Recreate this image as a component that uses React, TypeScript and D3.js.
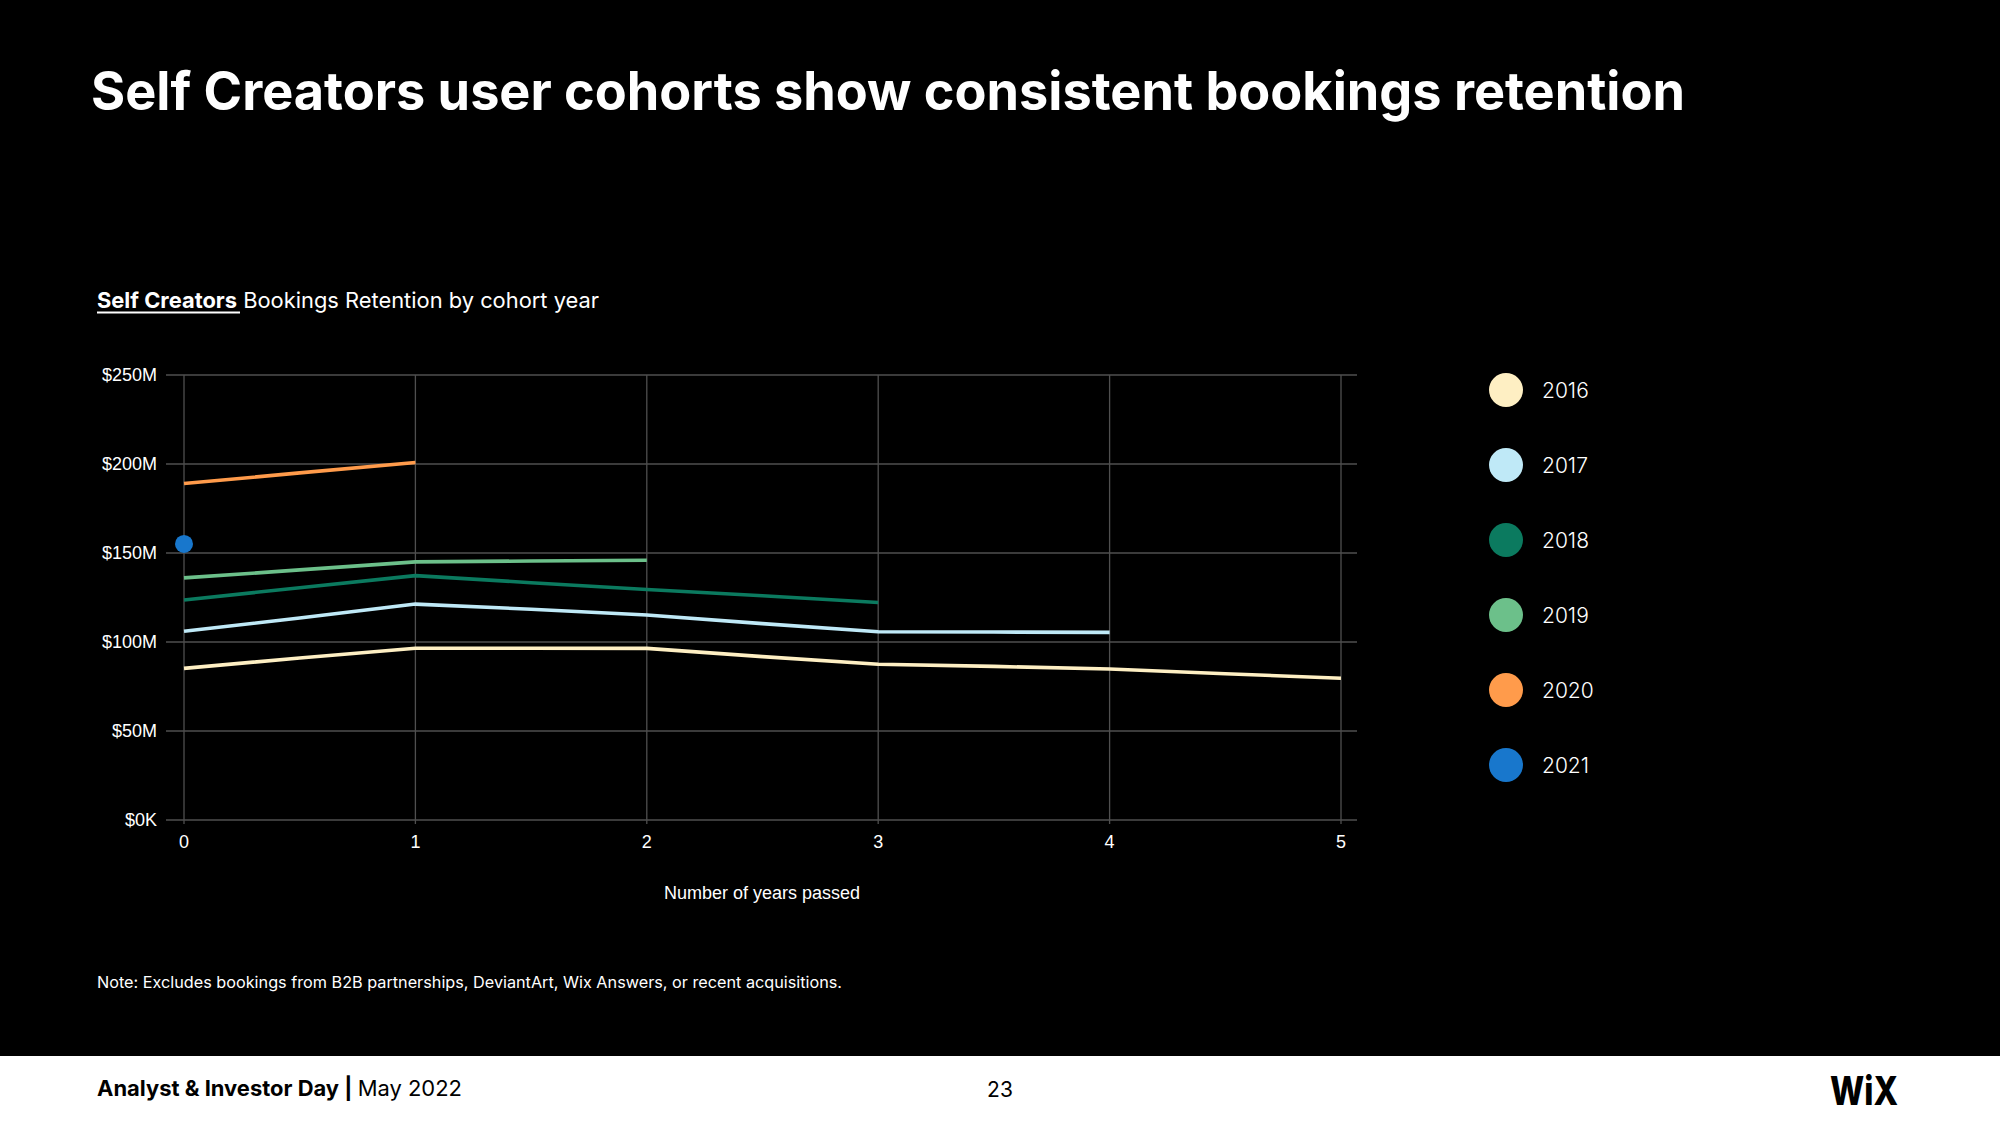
import React, { useEffect } from "react";
import * as d3 from "d3";

const yearsPassed = [0, 0.5, 1, 1.5, 2, 2.5, 3, 3.5, 4, 4.5, 5];
const cohortYears = ["2016", "2017", "2018", "2019", "2020", "2021"];
const values2016 = [85.2, 91.0, 96.5, 96.5, 96.4, 91.8, 87.5, 86.3, 84.8, 82.2, 79.6];
const values2017 = [106.0, 113.5, 121.3, 118.4, 115.2, 110.3, 105.8, 105.6, 105.4];
const values2018 = [123.6, 130.5, 137.3, 133.3, 129.5, 126.0, 122.2];
const values2019 = [136.0, 140.5, 145.0, 145.5, 145.9];
const values2020 = [189.0, 195.0, 200.8];
const values2021 = [155.1];
const cohortColors = ["#FEEFC3", "#BFE9F7", "#0B7A5F", "#6CC08A", "#FF9B4B", "#1877CC"];
const yTicks = [0, 50, 100, 150, 200, 250];
const yTickLabels = ["$0K", "$50M", "$100M", "$150M", "$200M", "$250M"];
const xTicks = [0, 1, 2, 3, 4, 5];

const series = [values2016, values2017, values2018, values2019, values2020, values2021];

export default function App() {
  useEffect(() => {
    document.body.style.margin = "0";
    document.body.style.background = "#000";
  }, []);

  const x = d3.scaleLinear().domain([0, 5]).range([184, 1341]);
  const y = d3.scaleLinear().domain([0, 250]).range([820, 375]);
  const line = d3
    .line<[number, number]>()
    .x((d) => x(d[0]))
    .y((d) => y(d[1]));

  const axisFont = "'Liberation Sans', Arial, sans-serif";
  const mainFont = "Inter, 'Noto Sans', sans-serif";

  return (
    <svg width={2000} height={1125} style={{ display: "block", background: "#000" }}>
      <rect x={0} y={0} width={2000} height={1125} fill="#000" />
      <text x={91} y={110} fill="#fff" fontFamily={mainFont} fontWeight={700} fontSize={53}
        textLength={1594} lengthAdjust="spacingAndGlyphs">
        Self Creators user cohorts show consistent bookings retention
      </text>

      <text x={97} y={308} fill="#fff" fontFamily={mainFont} fontSize={22} textLength={502} lengthAdjust="spacingAndGlyphs">
        <tspan fontWeight={700}>Self Creators</tspan>
        <tspan fontWeight={400}> Bookings Retention by cohort year</tspan>
      </text>
      <line x1={97} x2={240} y1={312.5} y2={312.5} stroke="#fff" strokeWidth={2} />

      {/* grid */}
      {yTicks.map((t, i) => (
        <g key={"y" + t}>
          <line x1={166} x2={1357} y1={y(t)} y2={y(t)} stroke="#4f4f4f" strokeWidth={1.3} />
          <text x={157} y={y(t) + 6} textAnchor="end" fill="#fff" fontFamily={axisFont} fontSize={18}>
            {yTickLabels[i]}
          </text>
        </g>
      ))}
      {xTicks.map((t) => (
        <g key={"x" + t}>
          <line x1={x(t)} x2={x(t)} y1={y(250)} y2={y(0) + 4} stroke="#4f4f4f" strokeWidth={1.3} />
          <text x={x(t)} y={848} textAnchor="middle" fill="#fff" fontFamily={axisFont} fontSize={18}>
            {t}
          </text>
        </g>
      ))}
      <text x={762} y={899} textAnchor="middle" fill="#fff" fontFamily={axisFont} fontSize={18}>
        Number of years passed
      </text>

      {series.map((vals, i) =>
        vals.length > 1 ? (
          <path
            key={cohortYears[i]}
            d={line(vals.map((v, j) => [yearsPassed[j], v] as [number, number])) || ""}
            fill="none"
            stroke={cohortColors[i]}
            strokeWidth={3.6}
            strokeLinejoin="round"
          />
        ) : (
          <circle key={cohortYears[i]} cx={x(yearsPassed[0])} cy={y(vals[0])} r={9} fill={cohortColors[i]} />
        )
      )}

      {/* legend */}
      {cohortYears.map((c, i) => (
        <g key={"leg" + c} transform={`translate(1506, ${390 + i * 75})`}>
          <circle cx={0} cy={0} r={17} fill={cohortColors[i]} />
          <text x={36} y={8} fill="#fff" fontFamily={mainFont} fontSize={21} fontWeight={300}>
            {c}
          </text>
        </g>
      ))}

      <text x={97} y={988} fill="#fff" fontFamily={mainFont} fontSize={16} textLength={745} lengthAdjust="spacingAndGlyphs">
        Note: Excludes bookings from B2B partnerships, DeviantArt, Wix Answers, or recent acquisitions.
      </text>

      {/* footer */}
      <rect x={0} y={1056} width={2000} height={69} fill="#fff" />
      <text x={97} y={1096} fill="#000" fontFamily={mainFont} fontSize={21.5} textLength={365} lengthAdjust="spacingAndGlyphs">
        <tspan fontWeight={700}>Analyst &amp; Investor Day</tspan>
        <tspan fontWeight={700}>  |  </tspan>
        <tspan fontWeight={400}>May 2022</tspan>
      </text>
      <text x={1000} y={1097} textAnchor="middle" fill="#000" fontFamily={mainFont} fontSize={21}>
        23
      </text>
      <text x={1830} y={1105} fill="#000" fontFamily={mainFont} fontWeight={800} fontSize={40}
        textLength={68} lengthAdjust="spacingAndGlyphs">
        WiX
      </text>
    </svg>
  );
}
